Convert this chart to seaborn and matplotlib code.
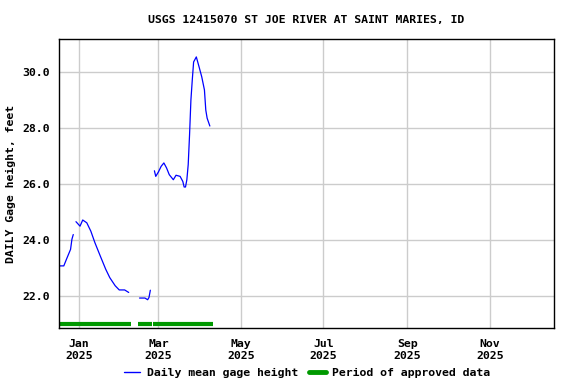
import matplotlib
matplotlib.use("Agg")
import matplotlib.pyplot as plt
from matplotlib.lines import Line2D
import seaborn as sns
import pandas as pd

# ---- data ----
seg1_dates = ["2024-12-17", "2024-12-18", "2024-12-21", "2024-12-23", "2024-12-26",
              "2024-12-27", "2024-12-28"]
seg1_vals = [22.96, 23.08, 23.08, 23.32, 23.67, 24.03, 24.20]

seg2_dates = ["2024-12-30", "2025-01-02", "2025-01-04", "2025-01-07", "2025-01-10",
              "2025-01-13", "2025-01-17", "2025-01-21", "2025-01-24", "2025-01-28",
              "2025-01-31", "2025-02-04", "2025-02-07"]
seg2_vals = [24.66, 24.50, 24.72, 24.62, 24.32, 23.91, 23.43, 22.96, 22.66, 22.37,
             22.22, 22.22, 22.13]

seg3_dates = ["2025-02-15", "2025-02-19", "2025-02-21", "2025-02-22", "2025-02-23"]
seg3_vals = [21.93, 21.93, 21.87, 21.95, 22.21]

seg4_dates = ["2025-02-26", "2025-02-27", "2025-03-01", "2025-03-03", "2025-03-05",
              "2025-03-07", "2025-03-09", "2025-03-12", "2025-03-14", "2025-03-17",
              "2025-03-19", "2025-03-20", "2025-03-21", "2025-03-22", "2025-03-23",
              "2025-03-24", "2025-03-25", "2025-03-26", "2025-03-27", "2025-03-29",
              "2025-03-31", "2025-04-02", "2025-04-04", "2025-04-05", "2025-04-06",
              "2025-04-08"]
seg4_vals = [26.48, 26.28, 26.44, 26.64, 26.76, 26.58, 26.34, 26.16, 26.32, 26.28,
             26.10, 25.90, 25.90, 26.16, 26.70, 27.77, 29.01, 29.72, 30.37, 30.55,
             30.20, 29.84, 29.37, 28.65, 28.36, 28.08]

approved_starts = ["2024-12-16", "2025-02-14", "2025-02-25"]
approved_ends = ["2025-02-09", "2025-02-24", "2025-04-10"]
approved_level = 21.0

title = "USGS 12415070 ST JOE RIVER AT SAINT MARIES, ID"
ylabel = "DAILY Gage height, feet"
yticks = [22.0, 24.0, 26.0, 28.0, 30.0]
xtick_dates = ["2025-01-01", "2025-03-01", "2025-05-01", "2025-07-01", "2025-09-01", "2025-11-01"]
legend_labels = ["Daily mean gage height", "Period of approved data"]

# ---- build tables ----
rows = []
for i, (d, v) in enumerate([(seg1_dates, seg1_vals), (seg2_dates, seg2_vals),
                            (seg3_dates, seg3_vals), (seg4_dates, seg4_vals)]):
    for dd, vv in zip(d, v):
        rows.append({"date": pd.Timestamp(dd), "value": vv, "seg": i})
df = pd.DataFrame(rows)

arows = []
for i, (s, e) in enumerate(zip(approved_starts, approved_ends)):
    arows.append({"date": pd.Timestamp(s), "value": approved_level, "seg": i})
    arows.append({"date": pd.Timestamp(e), "value": approved_level, "seg": i})
adf = pd.DataFrame(arows)

sns.set_style("white")
plt.rcParams["font.family"] = ["DejaVu Sans Mono"]
plt.rcParams["font.weight"] = "bold"
plt.rcParams["text.color"] = "black"
plt.rcParams["xtick.color"] = "black"
plt.rcParams["ytick.color"] = "black"
plt.rcParams["axes.labelcolor"] = "black"
FS = 8.25

fig = plt.figure(figsize=(5.76, 3.84), dpi=100)
ax = fig.add_axes([58.5 / 576, 1 - 327.7 / 384, (554 - 58.5) / 576, (327.7 - 39.3) / 384])

BLUE = "#0000ff"
GREEN = "#009900"

sns.lineplot(data=df, x="date", y="value", units="seg", estimator=None,
             color=BLUE, linewidth=0.9, ax=ax, legend=False)
sns.lineplot(data=adf, x="date", y="value", units="seg", estimator=None,
             color=GREEN, linewidth=3.0, ax=ax, legend=False, solid_capstyle="butt")

ax.set_xlim(pd.Timestamp("2024-12-17 02:00"), pd.Timestamp("2025-12-18 12:00"))
ax.set_ylim(20.87, 31.18)
ax.set_yticks(yticks)
ax.set_yticklabels([f"{t:.1f}" for t in yticks], fontsize=FS, fontweight="bold")
xt = [pd.Timestamp(d) for d in xtick_dates]
ax.set_xticks(xt)
ax.set_xticklabels([f"{t.strftime('%b')}\n{t.year}" for t in xt], fontsize=FS,
                   fontweight="bold", linespacing=1.3)
ax.tick_params(axis="y", length=0, pad=6)
ax.tick_params(axis="x", length=0, pad=8)
ax.grid(True, color="#cccccc", linewidth=1.0)
ax.set_axisbelow(True)
for sp in ax.spines.values():
    sp.set_color("black")
    sp.set_linewidth(1.0)
ax.set_xlabel("")
ax.set_ylabel(ylabel, fontsize=FS, fontweight="bold", labelpad=5)

fig.text(306 / 576, 1 - 19.5 / 384, title, ha="center", va="center", fontsize=FS, fontweight="bold")

handles = [Line2D([0], [0], color=BLUE, linewidth=1.0),
           Line2D([0], [0], color=GREEN, linewidth=3.5)]
fig.legend(handles, legend_labels,
           loc="center", bbox_to_anchor=(307 / 576, 1 - 373 / 384), ncol=2, frameon=False,
           prop={"size": FS, "weight": "bold"}, handlelength=1.45, handletextpad=0.55,
           columnspacing=1.0)

fig.savefig("out.png", dpi=100)
